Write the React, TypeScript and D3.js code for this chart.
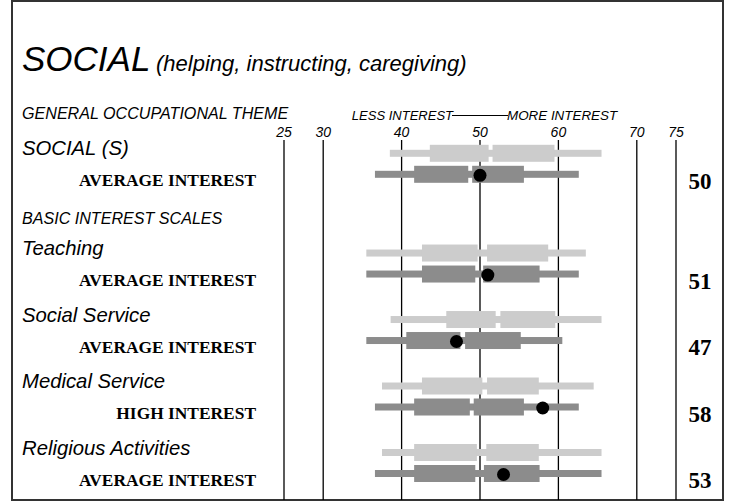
import * as d3 from "d3";

const ticks = [25, 30, 40, 50, 60, 70, 75];
const scaleNames = ["SOCIAL (S)", "Teaching", "Social Service", "Medical Service", "Religious Activities"];
const levelLabels = ["AVERAGE INTEREST", "AVERAGE INTEREST", "AVERAGE INTEREST", "HIGH INTEREST", "AVERAGE INTEREST"];
const scores = [50, 51, 47, 58, 53];
// row slots: the theme row, then a gap for the "basic interest" header
const rowSlots = [0, 1.5, 2.5, 3.5, 4.5];
// [low, q1, left box end, right box start, q3, high]
const lightRanges = [
  [38.5, 43.6, 51.1, 51.6, 59.5, 65.5],
  [35.5, 42.6, 49.7, 50.9, 58.7, 63.5],
  [38.6, 45.7, 52.0, 52.6, 59.6, 65.5],
  [37.5, 42.6, 50.3, 50.9, 57.5, 64.5],
  [37.5, 41.6, 49.6, 50.8, 57.5, 65.5],
];
const darkRanges = [
  [36.6, 41.6, 48.5, 49.0, 55.6, 62.6],
  [35.5, 42.6, 49.4, 50.4, 57.6, 62.6],
  [35.5, 40.6, 47.5, 48.1, 55.2, 60.5],
  [36.6, 41.6, 48.7, 49.2, 55.6, 62.6],
  [36.6, 41.6, 49.4, 50.5, 57.6, 65.5],
];

const W = 732;
const H = 502;
const SANS = "'Liberation Sans', Arial, sans-serif";
const SERIF = "'Liberation Serif', 'Times New Roman', serif";
const LIGHT = "#cccccc";
const DARK = "#8c8c8c";

function RangeBar({ r, cy, color, x }: { r: number[]; cy: number; color: string; x: d3.ScaleLinear<number, number> }) {
  const [lo, q1, m1, m2, q3, hi] = r;
  const whisker = 7;
  const box = 17;
  return (
    <g>
      <rect x={x(lo)} y={cy - whisker / 2} width={x(hi) - x(lo)} height={whisker} fill={color} />
      <rect x={x(q1)} y={cy - box / 2} width={x(m1) - x(q1)} height={box} fill={color} />
      <rect x={x(m2)} y={cy - box / 2} width={x(q3) - x(m2)} height={box} fill={color} />
    </g>
  );
}

export default function App() {
  const x = d3.scaleLinear().domain([25, 75]).range([284, 676]);
  const y = d3.scaleLinear().domain([0, 4.5]).range([153.3, 452.5]);
  const darkOffset = 21;

  return (
    <div style={{ position: "fixed", left: 0, top: 0 }}>
      <svg width={W} height={H} style={{ display: "block", background: "#fff" }}>
        <rect x={12} y={1} width={711} height={499} fill="none" stroke="#333" strokeWidth={2} />

        {/* title */}
        <text x={22} y={71} fontFamily={SANS} fontStyle="italic" fontSize={35} fill="#000">
          SOCIAL
        </text>
        <text x={156} y={71} fontFamily={SANS} fontStyle="italic" fontSize={22} fill="#000">
          (helping, instructing, caregiving)
        </text>

        {/* headers */}
        <text x={22} y={119} fontFamily={SANS} fontStyle="italic" fontSize={16.1} fill="#000">
          GENERAL OCCUPATIONAL THEME
        </text>
        <text x={22} y={224} fontFamily={SANS} fontStyle="italic" fontSize={16.1} fill="#000">
          BASIC INTEREST SCALES
        </text>
        <text x={453} y={120} textAnchor="end" fontFamily={SANS} fontStyle="italic" fontSize={13} fill="#000">
          LESS INTEREST
        </text>
        <line x1={452} x2={508} y1={115.5} y2={115.5} stroke="#000" strokeWidth={1} />
        <text x={507} y={120} fontFamily={SANS} fontStyle="italic" fontSize={13.4} fill="#000">
          MORE INTEREST
        </text>

        {/* scale grid */}
        {ticks.map((t) => (
          <g key={t}>
            <line x1={x(t)} x2={x(t)} y1={140} y2={500} stroke="#000" strokeWidth={1.3} />
            <text x={x(t)} y={136.5} textAnchor="middle" fontFamily={SANS} fontStyle="italic" fontSize={14} fill="#000">
              {t}
            </text>
          </g>
        ))}

        {/* rows */}
        {scaleNames.map((name, i) => {
          const cy = y(rowSlots[i]);
          const dy = cy + darkOffset;
          return (
            <g key={name}>
              <text x={22} y={cy + 2} fontFamily={SANS} fontStyle="italic" fontSize={20.3} fill="#000">
                {name}
              </text>
              <text x={256} y={dy + 12} textAnchor="end" fontFamily={SERIF} fontWeight="bold" fontSize={17.4} fill="#000">
                {levelLabels[i]}
              </text>
              <RangeBar r={lightRanges[i]} cy={cy} color={LIGHT} x={x} />
              <RangeBar r={darkRanges[i]} cy={dy} color={DARK} x={x} />
              <circle cx={x(scores[i])} cy={dy + 1} r={6.5} fill="#000" />
              <text x={700} y={dy + 14.5} textAnchor="middle" fontFamily={SERIF} fontWeight="bold" fontSize={23} fill="#000">
                {scores[i]}
              </text>
            </g>
          );
        })}
      </svg>
    </div>
  );
}
